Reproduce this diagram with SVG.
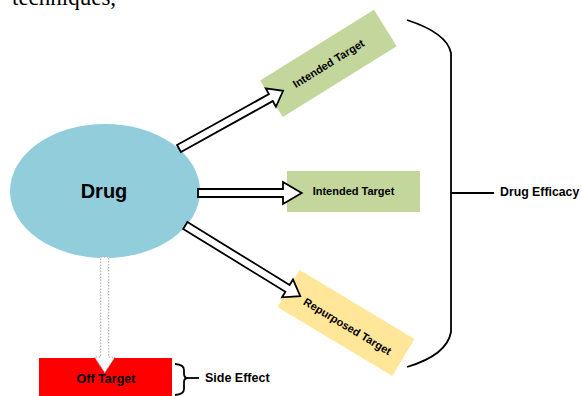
<svg xmlns="http://www.w3.org/2000/svg" width="581" height="396" viewBox="0 0 581 396">
<style>
.lbl{font-family:"Liberation Sans",Arial,sans-serif;font-weight:bold;fill:#000;}
.arr{fill:#fff;stroke:#000;stroke-width:1.8;stroke-linejoin:miter;}
.dot{fill:#fff;stroke:#aaa;stroke-width:1;stroke-dasharray:1.5 1.5;}
.br{fill:none;stroke:#000;stroke-width:1.8;}
</style>
<rect width="581" height="396" fill="#fff"/>
<text x="12" y="5" font-family="'Liberation Serif',serif" font-size="23" fill="#000">techniques,</text>

<g id="drug">
<ellipse cx="105" cy="191" rx="95" ry="67" fill="#92CDDC"/>
<text class="lbl" x="104" y="197.5" font-size="20" text-anchor="middle">Drug</text>
</g>

<g id="target-top" transform="translate(328.4,63.4) rotate(-31.8)">
<rect x="-67" y="-21.5" width="134" height="43" fill="#C3D69B"/>
<text class="lbl" x="0" y="4" font-size="11" text-anchor="middle">Intended Target</text>
</g>

<g id="target-mid">
<rect x="287" y="171" width="133" height="41" fill="#C3D69B"/>
<text class="lbl" x="353.5" y="194.5" font-size="11" text-anchor="middle">Intended Target</text>
</g>

<g id="target-repurposed" transform="translate(346,323) rotate(31)">
<rect x="-67" y="-21.5" width="134" height="43" fill="#FFE699"/>
<text class="lbl" x="3" y="6" font-size="11" text-anchor="middle">Repurposed Target</text>
</g>

<g id="off-target">
<rect x="39" y="358" width="133" height="38" fill="#FF0000"/>
<text class="lbl" x="106" y="383" font-size="12.5" text-anchor="middle">Off Target</text>
</g>

<g id="side-effect">
<text class="lbl" x="205" y="382" font-size="12.5">Side Effect</text>
</g>

<g id="drug-efficacy">
<text class="lbl" x="500" y="196" font-size="12.3">Drug Efficacy</text>
</g>

<g id="connectors">
<polygon class="arr" transform="translate(179,148.5) rotate(-29)" points="0,-4 105,-4 105,-10.5 119,0 105,10.5 105,4 0,4"/>
<polygon class="arr" transform="translate(198,193)" points="0,-4 85,-4 85,-11 103.7,0 85,11 85,4 0,4"/>
<polygon class="arr" transform="translate(185.3,225.5) rotate(31.6)" points="0,-4 120,-4 120,-10.5 135,0 120,10.5 120,4 0,4"/>
<polygon class="dot" points="100.7,257 108.7,257 108.7,357 115,357 104.7,372.7 94.5,357 100.7,357"/>
<path class="br" d="M407,20 Q447,33 451,53 L451,332 Q447,355 407,367"/>
<path class="br" d="M451,193 H494"/>
<path class="br" d="M175,364 Q184,364.5 184,370 L184,374 Q184,378 188,378 Q184,378 184,382 L184,389 Q184,394.5 175,395"/>
<path class="br" d="M188,378 H199"/>
</g>
</svg>
